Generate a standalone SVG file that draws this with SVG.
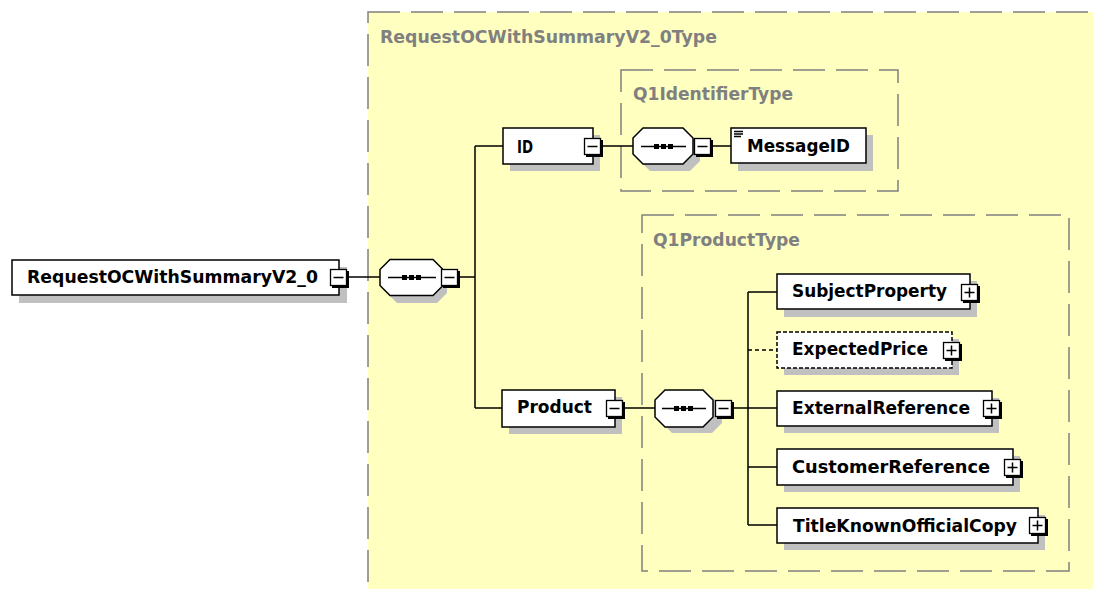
<svg xmlns="http://www.w3.org/2000/svg" width="1093" height="589" viewBox="0 0 1093 589">
<defs>
<style>
.grp{fill:#FFFFC0;stroke:#808080;stroke-width:1.5;stroke-dasharray:32 11}
.gt{font-family:"DejaVu Sans",sans-serif;font-weight:bold;font-size:17px;fill:#808080}
.sh{fill:#C0C0C0}
.box{fill:#FFFFFF;stroke:#000;stroke-width:1.5}
.opt{fill:#FFFFFF;stroke:#000;stroke-width:1.5;stroke-dasharray:4 2}
.t{font-family:"DejaVu Sans",sans-serif;font-weight:bold;font-size:17px;fill:#000}
.c{fill:none;stroke:#000;stroke-width:1.5}
.cd{fill:none;stroke:#000;stroke-width:1.5;stroke-dasharray:4 3}
.bs{fill:#000}
.bx{fill:#FFFFFF;stroke:#000;stroke-width:1.3}
.sym{stroke:#000;stroke-width:1.5;fill:none}
</style>
<g id="minus"><rect class="bs" x="-7" y="-7" width="17" height="17"/><rect class="bx" x="-8.5" y="-8.5" width="16" height="16"/><path class="sym" d="M-5.5,-0.5H4.5"/></g>
<g id="plus"><rect class="bs" x="-7" y="-7" width="17" height="17"/><rect class="bx" x="-8.5" y="-8.5" width="16" height="16"/><path class="sym" d="M-5.5,-0.5H4.5M-0.5,-5.5V4.5"/></g>
<g id="seqsh"><path class="sh" d="M10,0H50L60,10V26L50,36H10L0,26V10Z"/></g>
</defs>
<rect width="1093" height="589" fill="#FFFFFF"/>

<g id="outer-group">
<rect class="grp" x="368" y="12" width="760" height="600"/>
<text class="gt" x="380" y="43" textLength="337" lengthAdjust="spacingAndGlyphs">RequestOCWithSummaryV2_0Type</text>
</g>
<g id="q1identifiertype">
<rect class="grp" x="621" y="70" width="277" height="121"/>
<text class="gt" x="633" y="100" textLength="160" lengthAdjust="spacingAndGlyphs">Q1IdentifierType</text>
</g>
<g id="q1producttype">
<rect class="grp" x="642" y="215" width="427" height="356"/>
<text class="gt" x="653" y="246" textLength="147" lengthAdjust="spacingAndGlyphs">Q1ProductType</text>
</g>

<g id="connectors">
<path class="c" d="M346,277H380"/>
<path class="c" d="M457,277H475M475,146V408M475,146H503M475,408H502"/>
<path class="c" d="M601,146H633M710,146H731"/>
<path class="c" d="M623,408H655M731,408H748M748,292V525M748,292H777M748,408H777M748,467H777M748,525H777"/>
<path class="cd" d="M748,350H777"/>
</g>

<g id="root">
<rect class="sh" x="19" y="267" width="328" height="36"/>
<rect class="box" x="12" y="260" width="327" height="35"/>
<text class="t" x="27" y="283" textLength="291" lengthAdjust="spacingAndGlyphs">RequestOCWithSummaryV2_0</text>
<use href="#minus" x="339" y="278"/>
</g>

<g id="seq-root">
<use href="#seqsh" x="387" y="267"/>
<path class="box" d="M390,259.5H433L443,269.5V285.5L433,295.5H390L380,285.5V269.5Z"/>
<path class="sym" d="M388,277.5H436"/>
<rect class="bs" x="402" y="275" width="5" height="5"/><rect class="bs" x="409" y="275" width="5" height="5"/><rect class="bs" x="416" y="275" width="5" height="5"/>
<use href="#minus" x="450" y="278"/>
</g>

<g id="id">
<rect class="sh" x="510" y="135" width="90" height="36"/>
<rect class="box" x="503" y="128" width="90" height="36"/>
<text class="t" x="517" y="153" textLength="16" lengthAdjust="spacingAndGlyphs">ID</text>
<use href="#minus" x="593" y="147"/>
</g>

<g id="seq-id">
<use href="#seqsh" x="640" y="135"/>
<path class="box" d="M643,128H683L693,138V154L683,164H643L633,154V138Z"/>
<path class="sym" d="M641,146.5H686"/>
<rect class="bs" x="654" y="144" width="5" height="5"/><rect class="bs" x="661" y="144" width="5" height="5"/><rect class="bs" x="668" y="144" width="5" height="5"/>
<use href="#minus" x="703" y="147"/>
</g>

<g id="messageid">
<rect class="sh" x="738" y="135" width="135" height="36"/>
<rect class="box" x="731" y="128" width="135" height="35"/>
<path class="sym" stroke-width="1" d="M734,131.5H743M734,134H743M734,136.5H741"/>
<text class="t" x="747" y="152" textLength="103" lengthAdjust="spacingAndGlyphs">MessageID</text>
</g>

<g id="product">
<rect class="sh" x="509" y="397" width="113" height="37"/>
<rect class="box" x="502" y="390" width="113" height="37"/>
<text class="t" x="517" y="413" textLength="75" lengthAdjust="spacingAndGlyphs">Product</text>
<use href="#minus" x="615" y="409"/>
</g>

<g id="seq-product">
<use href="#seqsh" x="662" y="397"/>
<path class="box" d="M665,390H703L713,400V417L703,427H665L655,417V400Z"/>
<path class="sym" d="M662,408.5H706"/>
<rect class="bs" x="674" y="406" width="5" height="5"/><rect class="bs" x="681" y="406" width="5" height="5"/><rect class="bs" x="688" y="406" width="5" height="5"/>
<use href="#minus" x="724" y="409"/>
</g>

<g id="subjectproperty">
<rect class="sh" x="784" y="281" width="193" height="36"/>
<rect class="box" x="777" y="274" width="193" height="35"/>
<text class="t" x="792" y="297" textLength="155" lengthAdjust="spacingAndGlyphs">SubjectProperty</text>
<use href="#plus" x="970" y="293"/>
</g>

<g id="expectedprice">
<rect class="sh" x="784" y="339" width="175" height="36"/>
<rect class="opt" x="777" y="332" width="175" height="36"/>
<text class="t" x="792" y="355" textLength="136" lengthAdjust="spacingAndGlyphs">ExpectedPrice</text>
<use href="#plus" x="952" y="351"/>
</g>

<g id="externalreference">
<rect class="sh" x="784" y="398" width="215" height="35"/>
<rect class="box" x="777" y="391" width="215" height="35"/>
<text class="t" x="792" y="414" textLength="178" lengthAdjust="spacingAndGlyphs">ExternalReference</text>
<use href="#plus" x="992" y="409"/>
</g>

<g id="customerreference">
<rect class="sh" x="784" y="456" width="236" height="36"/>
<rect class="box" x="777" y="449" width="236" height="36"/>
<text class="t" x="792" y="473" textLength="198" lengthAdjust="spacingAndGlyphs">CustomerReference</text>
<use href="#plus" x="1013" y="468"/>
</g>

<g id="titleknownofficialcopy">
<rect class="sh" x="784" y="515" width="261" height="35"/>
<rect class="box" x="777" y="508" width="261" height="35"/>
<text class="t" x="793" y="532" textLength="224" lengthAdjust="spacingAndGlyphs">TitleKnownOfficialCopy</text>
<use href="#plus" x="1038" y="526"/>
</g>
</svg>
